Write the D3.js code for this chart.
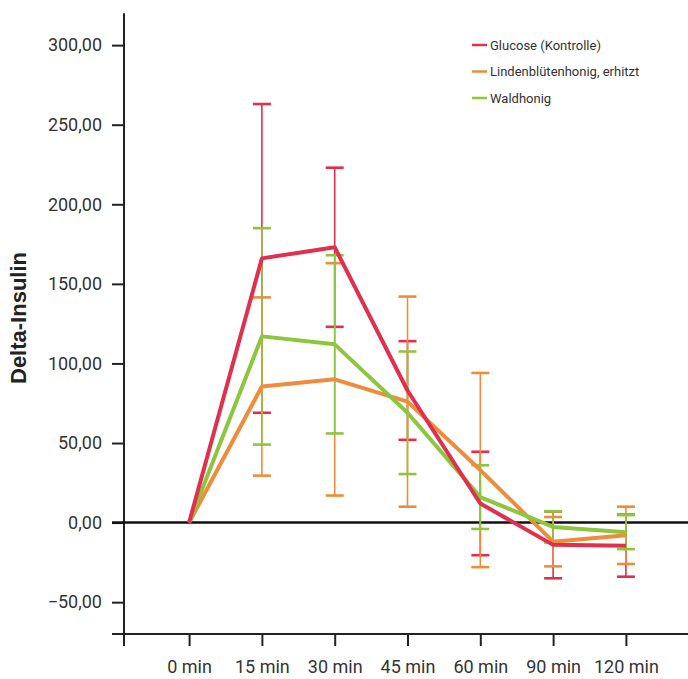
<!DOCTYPE html>
<meta charset="utf-8">
<style>

body {
  margin: 0;
  background: #fff;
}

.tick text {
  font-family: Roboto, sans-serif;
  font-size: 18px;
  fill: #333;
}

.legend text {
  font-family: Roboto, sans-serif;
  font-size: 13px;
  fill: #333;
}

.title {
  font-family: "Liberation Sans", Arial, sans-serif;
  font-weight: bold;
  font-size: 22px;
  fill: #222;
}

</style>
<body>
<script src="https://d3js.org/d3.v7.min.js"></script>
<script>

var width = 688,
    height = 679;

var times = ["0 min", "15 min", "30 min", "45 min", "60 min", "90 min", "120 min"];
var yTicks = [-50, 0, 50, 100, 150, 200, 250, 300];

var seriesNames = ["Glucose (Kontrolle)", "Lindenblütenhonig, erhitzt", "Waldhonig"];
var seriesColors = ["#e0304e", "#f08b3b", "#8cc63f"];

// mean values
var glucose = [0, 166, 173, 83, 12, -14, -14.5];
var linden  = [0, 85.5, 90, 76, 33, -12, -8];
var wald    = [0, 117, 112, 69, 16, -2.7, -6];

// error (+/-)
var glucoseErr = [0, 97, 50, 31, 32.5, 21, 19.5];
var lindenErr  = [0, 56, 73, 66, 61, 15.5, 18];
var waldErr    = [0, 68, 56, 38.5, 20, 9.8, 10.7];

var series = [
  {name: seriesNames[0], color: seriesColors[0], values: glucose, err: glucoseErr},
  {name: seriesNames[1], color: seriesColors[1], values: linden, err: lindenErr},
  {name: seriesNames[2], color: seriesColors[2], values: wald, err: waldErr}
];

var svg = d3.select("body").append("svg")
    .attr("width", width)
    .attr("height", height);

var x = d3.scalePoint()
    .domain(times)
    .range([124, 691])
    .padding(0.894);

var y = d3.scaleLinear()
    .domain([-70, 320])
    .range([634, 13.3]);

// y axis
var yAxis = svg.append("g")
    .attr("transform", "translate(124,0)")
    .call(d3.axisLeft(y)
      .tickValues(yTicks)
      .tickSize(12)
      .tickPadding(10)
      .tickFormat(function(d) { return d3.format(".2f")(d).replace(".", ",").replace("-", "−"); }));

yAxis.select(".domain").remove();
yAxis.selectAll(".tick line").attr("stroke", "#222").attr("stroke-width", 2);

svg.append("line")
    .attr("x1", 124).attr("x2", 124)
    .attr("y1", y(320)).attr("y2", 646)
    .attr("stroke", "#222")
    .attr("stroke-width", 2);

// x axis at bottom
var xAxis = svg.append("g")
    .attr("transform", "translate(0," + y(-70) + ")")
    .call(d3.axisBottom(x)
      .tickSize(12)
      .tickPadding(14));

xAxis.select(".domain").remove();
xAxis.selectAll(".tick line").attr("stroke", "#222").attr("stroke-width", 2);

svg.append("line")
    .attr("x1", 112).attr("x2", width)
    .attr("y1", y(-70)).attr("y2", y(-70))
    .attr("stroke", "#222")
    .attr("stroke-width", 2);

// zero line
svg.append("line")
    .attr("x1", 112).attr("x2", width)
    .attr("y1", y(0)).attr("y2", y(0))
    .attr("stroke", "#111")
    .attr("stroke-width", 2.5);

// title
svg.append("text")
    .attr("class", "title")
    .attr("transform", "translate(26," + 318 + ") rotate(-90)")
    .attr("text-anchor", "middle")
    .text("Delta-Insulin");

// error bars
series.forEach(function(s) {
  var g = svg.append("g").attr("stroke", s.color);
  times.forEach(function(t, i) {
    if (s.err[i] === 0) return;
    var cx = x(t),
        top = y(s.values[i] + s.err[i]),
        bot = y(s.values[i] - s.err[i]);
    g.append("line")
        .attr("x1", cx).attr("x2", cx)
        .attr("y1", top).attr("y2", bot)
        .attr("stroke-width", 1.6);
    [top, bot].forEach(function(yy) {
      g.append("line")
          .attr("x1", cx - 9).attr("x2", cx + 9)
          .attr("y1", yy).attr("y2", yy)
          .attr("stroke-width", 2.6);
    });
  });
});

// lines
var line = d3.line()
    .x(function(d, i) { return x(times[i]); })
    .y(function(d) { return y(d); });

[1, 2, 0].forEach(function(k) {
  var s = series[k];
  svg.append("path")
      .datum(s.values)
      .attr("d", line)
      .attr("fill", "none")
      .attr("stroke", s.color)
      .attr("stroke-width", 4)
      .attr("stroke-linejoin", "round");
});

// legend
var legend = svg.append("g")
    .attr("class", "legend")
    .attr("transform", "translate(472,45)");

series.forEach(function(s, i) {
  var row = legend.append("g").attr("transform", "translate(0," + (i * 26.5) + ")");
  row.append("line")
      .attr("x1", 0).attr("x2", 15)
      .attr("stroke", s.color)
      .attr("stroke-width", 2.5);
  row.append("text")
      .attr("x", 18)
      .attr("dy", "0.35em")
      .text(s.name);
});

</script>
